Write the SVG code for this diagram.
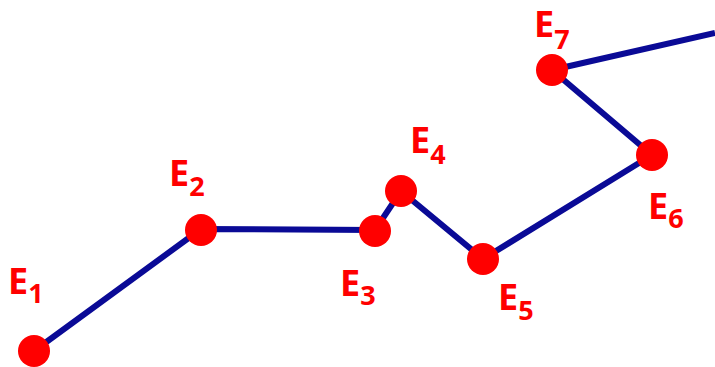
<svg xmlns="http://www.w3.org/2000/svg" width="715" height="367" viewBox="0 0 715 367">
<style>
.edge{fill:none;stroke:#0A0A96;stroke-width:6;stroke-linejoin:round}
.pt{fill:#FF0000}
.lbl{font-family:"Open Sans","Liberation Sans",sans-serif;font-weight:bold;font-size:36px;fill:#FF0000}
.sub{font-size:27px}
</style>
<rect width="715" height="367" fill="#FFFFFF"/>
<g id="connectors">
<polyline class="edge" points="34,351 201,229 375,230 401,191 483,259 652,155 552,70 715,33"/>
</g>
<g id="E1"><circle class="pt" cx="34" cy="351" r="16"/><text class="lbl" x="8" y="294">E<tspan class="sub" dy="9">1</tspan></text></g>
<g id="E2"><circle class="pt" cx="201" cy="230" r="16"/><text class="lbl" x="169" y="186">E<tspan class="sub" dy="10">2</tspan></text></g>
<g id="E3"><circle class="pt" cx="375" cy="231" r="16"/><text class="lbl" x="340" y="296">E<tspan class="sub" dy="9">3</tspan></text></g>
<g id="E4"><circle class="pt" cx="401" cy="191" r="16"/><text class="lbl" x="410" y="153">E<tspan class="sub" dy="11">4</tspan></text></g>
<g id="E5"><circle class="pt" cx="483" cy="259" r="16"/><text class="lbl" x="498" y="310">E<tspan class="sub" dy="10">5</tspan></text></g>
<g id="E6"><circle class="pt" cx="652" cy="155" r="16"/><text class="lbl" x="648" y="219">E<tspan class="sub" dy="9">6</tspan></text></g>
<g id="E7"><circle class="pt" cx="552" cy="70" r="16"/><text class="lbl" x="534" y="37">E<tspan class="sub" dy="12">7</tspan></text></g>
</svg>
